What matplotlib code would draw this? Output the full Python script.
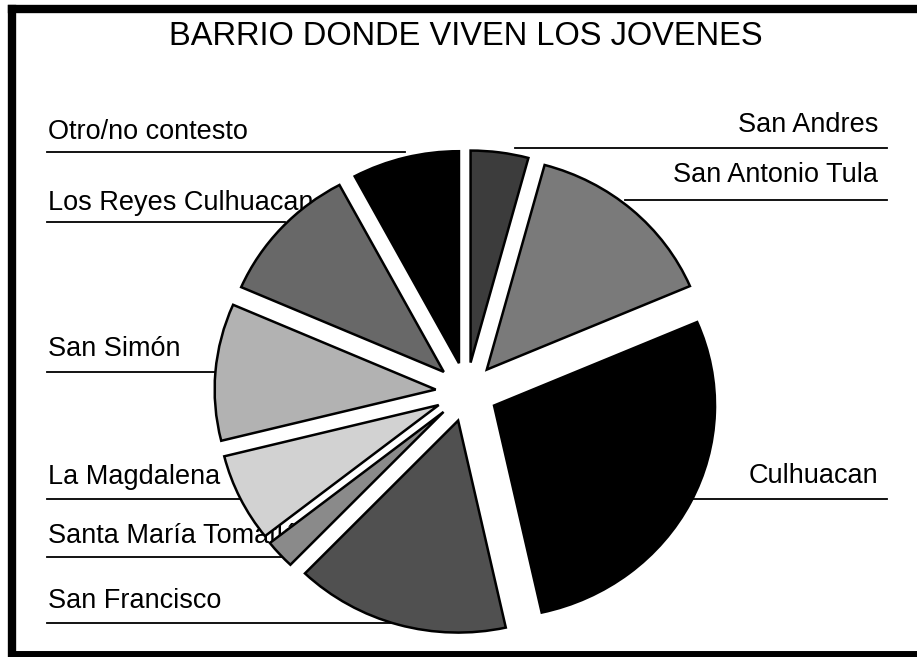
import matplotlib.pyplot as plt

plt.rcParams['font.family'] = ['Liberation Sans', 'DejaVu Sans']

titulo = 'BARRIO DONDE VIVEN LOS JOVENES'
barrios = ['San Andres', 'San Antonio Tula', 'Culhuacan', 'San Francisco',
           'Santa María Tomatlán', 'La Magdalena', 'San Simón',
           'Los Reyes Culhuacan', 'Otro/no contesto']
porcentaje = [4.2, 14.3, 27.9, 15.6, 2.2, 6.7, 10.4, 10.6, 7.8]
tonos = ['#3c3c3c', '#7a7a7a', '#000000', '#505050', '#8a8a8a',
         '#d2d2d2', '#b2b2b2', '#686868', '#000000']

# label layout (pixels, y down): side, text baseline, leader line y, inner end of line
lado = ['r', 'r', 'r', 'l', 'l', 'l', 'l', 'l', 'l']
texto_y = [132, 182, 483, 608, 543, 484, 356, 210, 139]
linea_y = [148, 200, 499, 623, 557, 499, 372, 222, 152]
linea_x = [515, 625, 690, 400, 292, 250, 230, 285, 405]

W, H = 917, 657
fig = plt.figure(figsize=(W / 100, H / 100), dpi=100)
ax = fig.add_axes([0, 0, 1, 1])
ax.set_xlim(0, W)
ax.set_ylim(H, 0)
ax.axis('off')

# frame (right side is cut off in the scan)
ax.plot([12, 12], [9, 654], color='black', lw=6, solid_capstyle='projecting')
ax.plot([12, W + 10], [9, 9], color='black', lw=6, solid_capstyle='projecting')
ax.plot([12, W + 10], [654, 654], color='black', lw=5, solid_capstyle='projecting')

ax.text(466, 45, titulo, ha='center', va='baseline', fontsize=23.5)

for nombre, s, ty, ly, lx in zip(barrios, lado, texto_y, linea_y, linea_x):
    if s == 'l':
        ax.text(48, ty, nombre, ha='left', va='baseline', fontsize=19.5)
        ax.plot([47, lx], [ly, ly], color='black', lw=1.3)
    else:
        ax.text(878, ty, nombre, ha='right', va='baseline', fontsize=19.5)
        ax.plot([lx, 887], [ly, ly], color='black', lw=1.3)

# pie in its own axes, a bit squashed vertically like the original
cx, cy = 466.5, 392
rx, ry = 221, 212
axp = fig.add_axes([0, 0, 1, 1])
axp.pie(porcentaje, colors=tonos, explode=[0.14] * len(porcentaje),
        startangle=90, counterclock=False, radius=1,
        wedgeprops=dict(edgecolor='black', linewidth=1.8))
axp.set_aspect('auto')
axp.set_xlim(-cx / rx, (W - cx) / rx)
axp.set_ylim(-(H - cy) / ry, cy / ry)
axp.axis('off')

fig.savefig('out.png', dpi=100)
